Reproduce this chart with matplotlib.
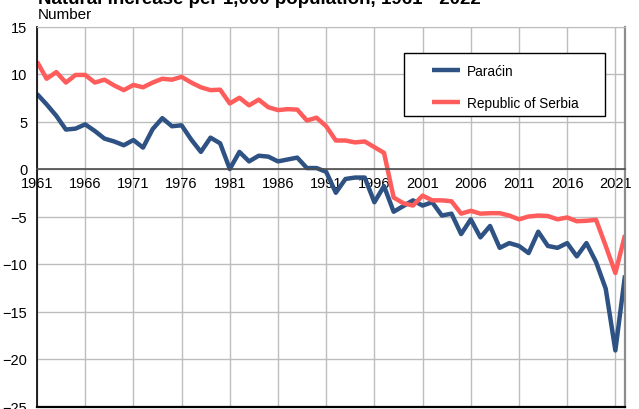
import matplotlib
matplotlib.use('Agg')
import matplotlib.pyplot as plt
from matplotlib.patches import Rectangle

plt.rcParams['font.family'] = ['Liberation Sans', 'DejaVu Sans']

## Data ##
years = list(range(1961, 2023))
paracin = [7.9, 6.8, 5.6, 4.15, 4.25, 4.7, 4.0, 3.2, 2.9, 2.5,
           3.05, 2.25, 4.2, 5.35, 4.5, 4.6, 3.1, 1.8, 3.3, 2.7,
           0.0, 1.8, 0.8, 1.4, 1.3, 0.8, 1.0, 1.2, 0.1, 0.1,
           -0.3, -2.5, -1.05, -0.9, -0.9, -3.5, -1.8, -4.5, -3.9, -3.3,
           -3.85, -3.5, -4.9, -4.7, -6.85, -5.3, -7.2, -6.0, -8.3, -7.8,
           -8.1, -8.85, -6.6, -8.1, -8.3, -7.8, -9.2, -7.8, -9.8, -12.6,
           -19.1, -11.2]
serbia = [11.3, 9.5, 10.2, 9.1, 9.9, 9.9, 9.1, 9.4, 8.8, 8.3,
          8.85, 8.6, 9.1, 9.5, 9.4, 9.7, 9.1, 8.6, 8.3, 8.35,
          6.9, 7.5, 6.7, 7.3, 6.5, 6.2, 6.3, 6.25, 5.1, 5.4,
          4.5, 3.0, 3.0, 2.8, 2.9, 2.3, 1.7, -3.0, -3.6, -3.85,
          -2.8, -3.3, -3.3, -3.4, -4.7, -4.4, -4.7, -4.65, -4.65, -4.9,
          -5.3, -5.0, -4.9, -4.95, -5.3, -5.1, -5.5, -5.45, -5.35, -8.1,
          -10.95, -6.95]
x_ticks = list(range(1961, 2022, 5))
y_ticks = [-25, -20, -15, -10, -5, 0, 5, 10, 15]
labels = ['Paraćin', 'Republic of Serbia']

BLUE = '#2E5283'
RED = '#FF5C5C'

## Plot ##
fig = plt.figure(figsize=(6.39, 4.10), dpi=100)
ax = fig.add_axes([37 / 639, 1 - 407.5 / 410, (625 - 37) / 639, (407.5 - 27.5) / 410])

ax.plot(years, paracin, color=BLUE, lw=3.2, label=labels[0], solid_capstyle='butt')
ax.plot(years, serbia, color=RED, lw=3.2, label=labels[1], solid_capstyle='butt')

ax.set_xlim(1961, 2022)
ax.set_ylim(-25, 15)
ax.set_xticks(x_ticks)
ax.set_yticks(y_ticks)
ax.grid(True, color='#BDBDBD', lw=1.0)
ax.set_axisbelow(True)

# x labels hang under the zero line
ax.spines['bottom'].set_position(('data', 0))
ax.spines['bottom'].set_color('#4D4D4D')
ax.spines['bottom'].set_linewidth(1.2)
ax.spines['left'].set_color('black')
ax.spines['left'].set_linewidth(1.2)
ax.spines['top'].set_color('#BDBDBD')
ax.spines['right'].set_color('#8C8C8C')
ax.spines['right'].set_linewidth(1.6)
ax.axhline(-25, color='black', lw=1.6, clip_on=False, zorder=3)

ax.tick_params(axis='x', length=0, pad=5, labelsize=10.5)
ax.tick_params(axis='y', length=0, pad=7, labelsize=10.5)

# legend: frameless entries inside a hand-drawn box
box = Rectangle((404 / 639, 1 - 117 / 410), 201 / 639, 63 / 410,
                transform=fig.transFigure, facecolor='white',
                edgecolor='black', lw=1.0, zorder=4, clip_on=False)
ax.add_patch(box)
leg = ax.legend(loc='upper left', bbox_to_anchor=(432 / 639, 1 - 64.5 / 410),
                bbox_transform=fig.transFigure, frameon=False, fontsize=9.8,
                borderpad=0, borderaxespad=0, handlelength=2.05, handletextpad=0.5,
                labelspacing=1.37)
leg.set_zorder(5)

fig.text(38 / 639, 1 - 4.5 / 410, 'Natural increase per 1,000 population, 1961 - 2022',
         fontsize=13.5, fontweight='bold', va='baseline', ha='left')
fig.text(38 / 639, 1 - 19 / 410, 'Number', fontsize=11, va='baseline', ha='left')

plt.savefig('out.png', dpi=100)
